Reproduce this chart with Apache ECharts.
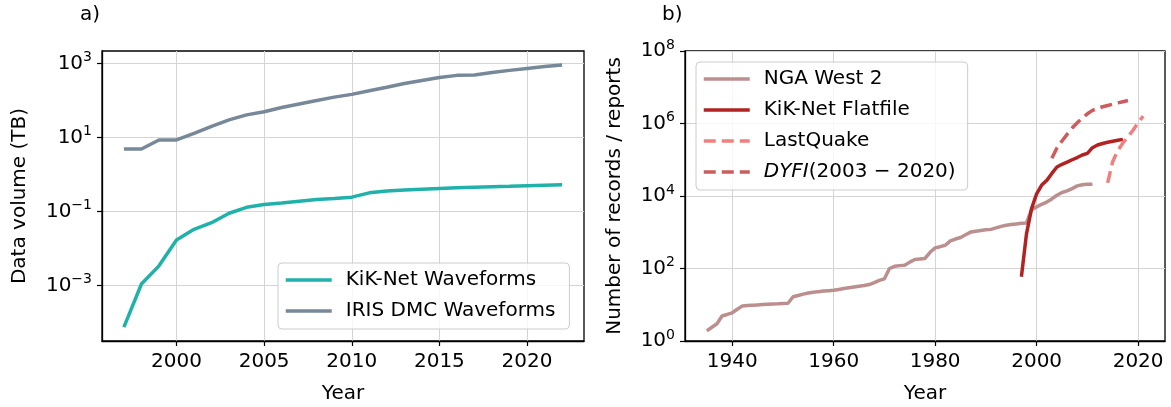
<!DOCTYPE html>
<html>
<head>
<meta charset="utf-8">
<script src="https://cdn.jsdelivr.net/npm/echarts@6/dist/echarts.min.js"></script>
<style>
  html, body { margin: 0; background: #fff; }
  #chart { width: 1171px; height: 407px; }
</style>
</head>
<body>
<div id="chart"></div>
<script>
// panel a) data volume per year
const yearsA = [1997, 1998, 1999, 2000, 2001, 2002, 2003, 2004, 2005, 2006, 2007, 2008, 2009,
  2010, 2011, 2012, 2013, 2014, 2015, 2016, 2017, 2018, 2019, 2020, 2021, 2022];
const kikWaveforms = [7.5e-5, 1.1e-3, 3.4e-3, 0.017, 0.033, 0.05, 0.09, 0.13, 0.155, 0.17, 0.19, 0.21, 0.225,
  0.245, 0.32, 0.36, 0.38, 0.40, 0.42, 0.44, 0.455, 0.47, 0.48, 0.50, 0.515, 0.53];
const irisWaveforms = [4.9, 4.9, 8.6, 8.6, 13, 20, 30, 41, 50, 65, 81, 100, 124,
  147, 185, 228, 290, 350, 420, 480, 490, 575, 655, 740, 830, 920];

// panel b) number of records / reports
const yearsNga = [1935, 1936, 1937, 1938, 1939, 1940, 1941, 1942, 1943, 1944, 1945, 1946, 1947, 1948, 1949,
  1950, 1951, 1952, 1953, 1954, 1955, 1956, 1957, 1958, 1959, 1960, 1961, 1962, 1963, 1964, 1965, 1966,
  1967, 1968, 1969, 1970, 1971, 1972, 1973, 1974, 1975, 1976, 1977, 1978, 1979, 1980, 1981, 1982, 1983,
  1984, 1985, 1986, 1987, 1988, 1989, 1990, 1991, 1992, 1993, 1994, 1995, 1996, 1997, 1998, 1999, 2000,
  2001, 2002, 2003, 2004, 2005, 2006, 2007, 2008, 2009, 2010, 2011];
const ngaWest2 = [1.9, 2.4, 3.0, 4.9, 5.4, 6.0, 7.5, 9.2, 9.5, 9.7, 9.9, 10.1, 10.3, 10.5, 10.6,
  10.8, 11, 16.6, 18, 19.6, 21, 22, 23, 23.8, 24.5, 25, 26.5, 28, 29.5, 31, 32.5, 34,
  36, 41, 47, 52, 100, 115, 120, 123, 150, 178, 184, 190, 280, 370, 400, 437, 580,
  650, 715, 850, 1010, 1070, 1120, 1170, 1200, 1320, 1450, 1560, 1640, 1700, 1760, 1800, 4200, 5000,
  5900, 6800, 8300, 10500, 12500, 13800, 16000, 19000, 20500, 21000, 21200];
const yearsKikFlat = [1997, 1998, 1999, 2000, 2001, 2002, 2003, 2004, 2005, 2006, 2007, 2008, 2009,
  2010, 2011, 2012, 2013, 2014, 2015, 2016, 2017];
const kikFlatfile = [59, 900, 4500, 11500, 20000, 27000, 42000, 63000, 75000, 86000, 100000, 115000, 135000,
  150000, 215000, 255000, 280000, 305000, 325000, 345000, 365000];
const yearsLastQuake = [2014, 2015, 2016, 2017, 2018, 2019, 2020, 2021];
const lastQuake = [23000, 90000, 180000, 290000, 430000, 650000, 1050000, 1600000];
const yearsDyfi = [2003, 2004, 2005, 2006, 2007, 2008, 2009, 2010, 2011, 2012, 2013, 2014, 2015, 2016, 2017, 2018];
const dyfi = [110000, 210000, 330000, 500000, 750000, 1050000, 1400000, 1850000, 2300000, 2600000,
  2900000, 3150000, 3400000, 3700000, 4000000, 4300000];

const ticksA = [2000, 2005, 2010, 2015, 2020];
const ticksB = [1940, 1960, 1980, 2000, 2020];
const logTicksA = [1e-3, 1e-1, 1e1, 1e3];
const logTicksB = [1e0, 1e2, 1e4, 1e6, 1e8];

const FONT = "DejaVu Sans";
const FS = 20;

const pairs = (xs, ys) => xs.map((x, i) => [x, ys[i]]);

const powLabel = (v) => {
  const e = Math.round(Math.log10(v));
  return "10{sup|" + (e < 0 ? "\u2212" + -e : e) + "}";
};

const gridStyle = { lineStyle: { color: "#d4d4d4", width: 1 } };

const xAxisBase = (min, max, ticks, gridIndex) => ({
  type: "value",
  gridIndex,
  min,
  max,
  name: "Year",
  nameLocation: "middle",
  nameGap: 43,
  nameTextStyle: { fontFamily: FONT, fontSize: FS, color: "#000" },
  axisLine: { onZero: false, lineStyle: { color: "#000", width: 1.3 } },
  axisTick: { customValues: ticks, length: 5, lineStyle: { color: "#000", width: 1.2 } },
  axisLabel: {
    customValues: ticks,
    margin: 11,
    fontFamily: FONT,
    fontSize: FS,
    color: "#000",
    formatter: (v) => String(v),
  },
  splitLine: { show: true, ...gridStyle },
});

const yAxisBase = (min, max, ticks, gridIndex, name, nameGap) => ({
  type: "log",
  logBase: 10,
  gridIndex,
  min,
  max,
  name,
  nameLocation: "middle",
  nameGap,
  nameTextStyle: { fontFamily: FONT, fontSize: FS, color: "#000" },
  axisLine: { lineStyle: { color: "#000", width: 1.3 } },
  axisTick: { customValues: ticks, length: 5, lineStyle: { color: "#000", width: 1.2 } },
  axisLabel: {
    customValues: ticks,
    margin: 10,
    fontFamily: FONT,
    fontSize: FS,
    color: "#000",
    formatter: powLabel,
    rich: {
      sup: { fontFamily: FONT, fontSize: 14, color: "#000", padding: [0, 0, 12, 0] },
    },
  },
  splitLine: { show: true, ...gridStyle },
});

const lineSeries = (name, data, color, axis, dashed) => ({
  name,
  type: "line",
  xAxisIndex: axis,
  yAxisIndex: axis,
  data,
  symbol: "none",
  lineStyle: { color, width: 3.5, type: dashed ? [12, 6] : "solid" },
  itemStyle: { color },
  z: 3,
});

const legendBase = {
  orient: "vertical",
  backgroundColor: "rgba(255,255,255,0.8)",
  borderColor: "#cccccc",
  borderWidth: 1,
  borderRadius: 4,
  itemWidth: 46,
  itemHeight: 20,
  itemGap: 11,
  selectedMode: false,
  itemStyle: { opacity: 0 },
  lineStyle: { width: 3.5 },
  textStyle: {
    fontFamily: FONT,
    fontSize: FS,
    color: "#000",
    padding: [0, 0, 0, 9],
    rich: {
      it: { fontFamily: FONT, fontSize: FS, fontStyle: "italic", color: "#000" },
    },
  },
};

const chart = echarts.init(document.getElementById("chart"), null, { renderer: "canvas" });

chart.setOption({
  animation: false,
  backgroundColor: "#fff",
  title: [
    { text: "a)", left: 80, top: 5, padding: 0,
      textStyle: { fontFamily: FONT, fontSize: FS, fontWeight: "normal", color: "#000" } },
    { text: "b)", left: 662, top: 5, padding: 0,
      textStyle: { fontFamily: FONT, fontSize: FS, fontWeight: "normal", color: "#000" } },
  ],
  grid: [
    { left: 102, top: 51, width: 482, height: 290, show: true, borderColor: "#000", borderWidth: 1.3,
      outerBoundsMode: "none" },
    { left: 685, top: 51, width: 480, height: 290, show: true, borderColor: "#000", borderWidth: 1.3,
      outerBoundsMode: "none" },
  ],
  xAxis: [
    xAxisBase(1995.75, 2023.25, ticksA, 0),
    xAxisBase(1930.7, 2025.3, ticksB, 1),
  ],
  yAxis: [
    yAxisBase(Math.pow(10, -4.5), Math.pow(10, 3.34), logTicksA, 0, "Data volume (TB)", 72),
    yAxisBase(1, 1e8, logTicksB, 1, "Number of records / reports", 60),
  ],
  legend: [
    { ...legendBase, left: 278, top: 263, padding: [7, 14, 8, 6],
      data: ["KiK-Net Waveforms", "IRIS DMC Waveforms"] },
    { ...legendBase, left: 696, top: 62, padding: [7, 12, 8, 6],
      data: ["NGA West 2", "KiK-Net Flatfile", "LastQuake", "DYFI"],
      formatter: (n) => (n === "DYFI" ? "{it|DYFI}(2003 \u2212 2020)" : n) },
  ],
  series: [
    lineSeries("KiK-Net Waveforms", pairs(yearsA, kikWaveforms), "#20b2aa", 0, false),
    lineSeries("IRIS DMC Waveforms", pairs(yearsA, irisWaveforms), "#778899", 0, false),
    lineSeries("NGA West 2", pairs(yearsNga, ngaWest2), "#bc8f8f", 1, false),
    lineSeries("KiK-Net Flatfile", pairs(yearsKikFlat, kikFlatfile), "#b22222", 1, false),
    lineSeries("LastQuake", pairs(yearsLastQuake, lastQuake), "#f08080", 1, true),
    lineSeries("DYFI", pairs(yearsDyfi, dyfi), "#cd5c5c", 1, true),
  ],
});
</script>
</body>
</html>
